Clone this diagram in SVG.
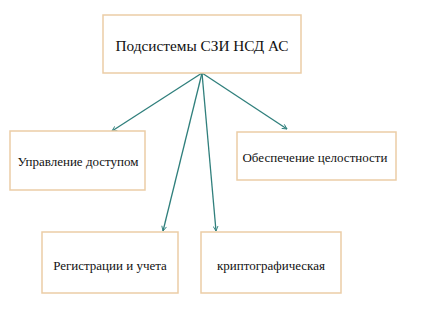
<svg xmlns="http://www.w3.org/2000/svg" width="427" height="320" viewBox="0 0 427 320">
<style>
.box{fill:#fff;stroke:#ebcda6;stroke-width:1.5}
.t{font-family:"Liberation Serif",serif;font-size:13px;fill:#111;text-anchor:middle;dominant-baseline:central}
.c{stroke:#2f7f7c;stroke-width:1.3;fill:none;marker-end:url(#a)}
</style>
<defs>
<marker id="a" viewBox="0 0 10 10" refX="9" refY="5" markerWidth="6" markerHeight="6" orient="auto" markerUnits="userSpaceOnUse">
<path d="M1,1 L9,5 L1,9" fill="none" stroke="#2f7f7c" stroke-width="1.5"/>
</marker>
</defs>
<rect width="427" height="320" fill="#fff"/>
<g id="connectors">
<line class="c" x1="202" y1="73" x2="112" y2="131"/>
<line class="c" x1="202" y1="73" x2="287" y2="129"/>
<line class="c" x1="202" y1="73" x2="163" y2="231"/>
<line class="c" x1="202" y1="73" x2="216" y2="231"/>
</g>
<g id="top">
<rect class="box" x="103" y="15" width="198" height="58"/>
<text class="t" x="202" y="45" style="font-size:15.3px">Подсистемы СЗИ НСД АС</text>
</g>
<g id="access">
<rect class="box" x="10" y="131" width="135" height="59"/>
<text class="t" x="78" y="161">Управление доступом</text>
</g>
<g id="integrity">
<rect class="box" x="237" y="132" width="159" height="48"/>
<text class="t" x="315" y="157">Обеспечение целостности</text>
</g>
<g id="registration">
<rect class="box" x="42" y="232" width="136" height="61"/>
<text class="t" x="110" y="265">Регистрации и учета</text>
</g>
<g id="crypto">
<rect class="box" x="201" y="232" width="140" height="61"/>
<text class="t" x="271" y="265">криптографическая</text>
</g>
</svg>
